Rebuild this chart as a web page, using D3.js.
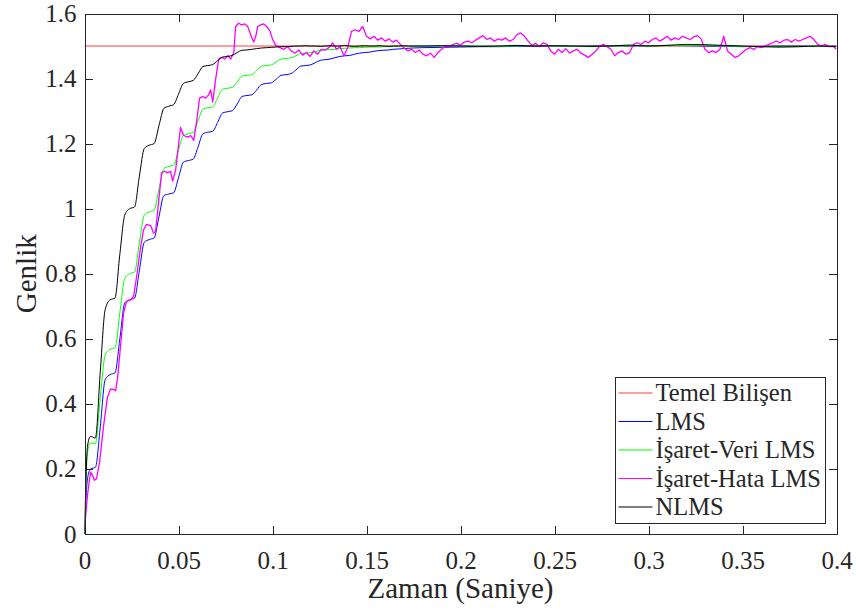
<!DOCTYPE html>
<html>
<head>
<meta charset="utf-8">
<script src="https://cdn.jsdelivr.net/npm/d3@7/dist/d3.min.js"></script>
<style>
body{margin:0;background:#fff;}
svg text{font-family:"Liberation Serif","Times New Roman",serif;fill:#262626;}
</style>
</head>
<body>
<div class="canvas"></div>
<script>
/* adaptive filter comparison: Temel Bilesen vs LMS variants */

// tick values and labels
var xTicks = [0,0.05,0.1,0.15,0.2,0.25,0.3,0.35,0.4];
var xTickLabels = ["0","0.05","0.1","0.15","0.2","0.25","0.3","0.35","0.4"];
var yTicks = [0,0.2,0.4,0.6,0.8,1,1.2,1.4,1.6];
var yTickLabels = ["0","0.2","0.4","0.6","0.8","1","1.2","1.4","1.6"];

var seriesNames = ["Temel Bilişen","LMS","İşaret-Veri LMS","İşaret-Hata LMS","NLMS"];

// reference component (constant)
var refTime = [0,0.4];
var refValues = [1.5,1.5];

// shared time grid for LMS, Sign-Data LMS, NLMS (seconds)
var time = [0,0.0016,0.0032,0.0058,0.0084,
  0.011,0.0136,0.0162,0.0188, 0.0214,0.024,0.0266,0.0292, 0.0318,0.0344,0.037,0.0396,
  0.0422,0.0448,0.0474,0.05, 0.0526,0.0552,0.0578,0.0604, 0.063,0.0656,0.0682,0.0708,
  0.0734,0.076,0.0786,0.0812, 0.0838,0.0864,0.089,0.0916, 0.0942,0.0968,0.0994,0.102,
  0.1046,0.1072,0.1098,0.1124, 0.115,0.1176,0.1202,0.1228, 0.1254,0.128,0.1306,0.1332,
  0.1358,0.1384,0.141,0.1436, 0.1462,0.1488,0.1514,0.154, 0.1566,0.1592,0.1618,0.1644,
  0.167,0.1696,0.1722,0.1748,
  0.18,0.19,0.2,0.21,0.22,0.23,0.24,0.25,0.26,0.27,0.28,0.29,0.3,0.31,0.32,0.33,0.34,0.35,0.36,0.37,0.38,0.39,0.4];

var lms = [0,0.17,0.20,0.205,0.33,
  0.475,0.49,0.495,0.60, 0.71,0.72,0.725,0.81, 0.897,0.905,0.91,0.975,
  1.04,1.045,1.049,1.095, 1.143,1.148,1.152,1.19, 1.23,1.235,1.238,1.265,
  1.294,1.298,1.301,1.322, 1.345,1.348,1.35,1.365, 1.382,1.385,1.387,1.398,
  1.41,1.412,1.415,1.426, 1.438,1.44,1.442,1.449, 1.456,1.458,1.46,1.464,
  1.468,1.47,1.471,1.475, 1.478,1.48,1.481,1.484, 1.486,1.487,1.488,1.49,
  1.491,1.492,1.493,1.494,
  1.495,1.496,1.497,1.498,1.498,1.499,1.5,1.5,1.499,1.5,1.501,1.5,1.501,1.502,1.501,1.5,1.499,1.498,1.499,1.5,1.5,1.499,1.498];

var signData = [0,0.25,0.28,0.278,0.42,
  0.55,0.568,0.572,0.68, 0.785,0.80,0.805,0.895, 0.98,0.99,0.995,1.06,
  1.123,1.13,1.134,1.18, 1.225,1.23,1.234,1.27, 1.306,1.31,1.313,1.34,
  1.367,1.37,1.373,1.39, 1.408,1.41,1.412,1.425, 1.438,1.44,1.442,1.451,
  1.46,1.462,1.464,1.47, 1.477,1.478,1.48,1.483, 1.487,1.488,1.489,1.49,
  1.492,1.493,1.494,1.495, 1.495,1.496,1.497,1.497, 1.497,1.498,1.498,1.499,
  1.499,1.5,1.5,1.5,
  1.5,1.5,1.501,1.5,1.499,1.5,1.502,1.5,1.499,1.498,1.5,1.501,1.5,1.501,1.502,1.502,1.5,1.499,1.498,1.497,1.498,1.499,1.5];

var nlms = [0,0.27,0.30,0.295,0.50,
  0.69,0.72,0.725,0.86, 0.98,1.0,1.005,1.10, 1.185,1.195,1.2,1.255,
  1.308,1.315,1.32,1.352, 1.385,1.39,1.394,1.415, 1.437,1.44,1.443,1.455,
  1.466,1.468,1.471,1.48, 1.487,1.488,1.49,1.492, 1.494,1.495,1.496,1.497,
  1.498,1.498,1.499,1.5, 1.5,1.501,1.5,1.5, 1.499,1.5,1.501,1.5,
  1.5,1.502,1.5,1.499, 1.5,1.501,1.5,1.5, 1.501,1.5,1.499,1.5,
  1.5,1.501,1.5,1.5,
  1.5,1.501,1.5,1.499,1.5,1.502,1.5,1.501,1.5,1.499,1.5,1.503,1.5,1.502,1.505,1.504,1.502,1.5,1.498,1.497,1.498,1.5,1.499];

// sign-error LMS is noisy, has its own time grid
var signErrTime = [0,0.0016,0.0032,0.0043,0.0053,0.0064,0.008,0.0101,0.0122,0.0138,
  0.0154,0.0165,0.0176,0.0192,0.0208,0.0224,0.0245,0.0261,0.0277,0.0298,
  0.0314,0.033,0.0352,0.0367,0.0378,0.0394,0.041,0.0426,0.0442,0.0458,
  0.0469,0.0485,0.0501,0.0511,0.0527,0.0549,0.0565,0.0581,0.0597,0.0612,
  0.0628,0.0644,0.066,0.0671,0.0682,0.0698,0.0714,0.073,0.0746,0.0762,
  0.0778,0.0794,0.0804,0.082,0.0836,0.0852,0.0868,0.0884,0.09,0.0911,
  0.0921,0.0937,0.0953,0.0969,0.0985,0.1001,0.1017,
  0.104,0.106,0.108,0.11,0.112,0.114,0.116,0.118,0.12,0.122,0.124,0.126,0.128,0.13,
  0.132,0.134,0.136,0.138,0.14,0.142,0.144,0.146,0.148,0.15,0.152,0.154,0.156,0.158,
  0.16,0.162,0.164,0.166,0.168,0.17,0.172,0.174,0.176,0.178,0.18,0.182,0.184,0.186,
  0.188,0.19,0.192,0.194,0.196,0.198,0.2,0.202,0.204,0.206,0.208,0.21,0.212,0.214,
  0.216,0.218,0.22,0.222,0.224,0.226,0.228,0.23,0.232,0.234,0.236,0.238,0.24,0.242,
  0.244,0.246,0.248,0.25,0.252,0.254,0.256,0.258,0.26,0.262,0.264,0.266,0.268,0.27,
  0.272,0.274,0.276,0.278,0.28,0.282,0.284,0.286,0.288,0.29,0.292,0.294,0.296,0.298,
  0.3,0.302,0.304,0.306,0.308,0.31,0.312,0.314,0.316,0.318,0.32,0.322,0.324,0.326,
  0.328,0.33,0.332,0.334,0.336,0.338,0.34,0.342,0.344,0.346,0.348,0.35,0.352,0.354,
  0.356,0.358,0.36,0.362,0.364,0.366,0.368,0.37,0.372,0.374,0.376,0.378,0.38,0.382,
  0.384,0.386,0.388,0.39,0.392,0.394,0.396,0.398,0.4];

var signErr = [0.015,0.12,0.19,0.18,0.165,0.17,0.22,0.33,0.42,0.445,
  0.445,0.44,0.48,0.58,0.68,0.715,0.72,0.73,0.79,0.88,
  0.935,0.952,0.948,0.925,0.93,1.02,1.11,1.115,1.11,1.115,
  1.085,1.12,1.2,1.25,1.225,1.22,1.225,1.21,1.27,1.34,
  1.345,1.34,1.35,1.365,1.328,1.40,1.46,1.465,1.46,1.47,
  1.46,1.48,1.56,1.57,1.565,1.568,1.56,1.535,1.512,1.53,
  1.56,1.565,1.568,1.56,1.548,1.52,1.502,
  1.495,1.49,1.498,1.485,1.478,1.488,1.472,1.48,1.468,1.485,1.475,1.49,1.488,1.495,
  1.51,1.49,1.498,1.47,1.495,1.545,1.55,1.545,1.56,1.53,1.522,1.53,1.518,1.525,
  1.515,1.522,1.512,1.518,1.505,1.495,1.485,1.49,1.48,1.488,1.475,1.47,1.478,1.465,
  1.48,1.49,1.5,1.498,1.505,1.508,1.503,1.512,1.515,1.51,1.518,1.525,1.532,1.52,
  1.525,1.515,1.522,1.518,1.525,1.515,1.52,1.535,1.54,1.53,1.515,1.502,1.508,1.498,
  1.51,1.505,1.485,1.475,1.49,1.48,1.492,1.478,1.485,1.49,1.478,1.472,1.465,1.475,
  1.485,1.5,1.505,1.498,1.49,1.47,1.48,1.485,1.475,1.48,1.505,1.51,1.505,1.515,
  1.51,1.52,1.525,1.515,1.522,1.53,1.518,1.525,1.52,1.53,1.525,1.52,1.528,1.532,
  1.522,1.49,1.48,1.485,1.48,1.49,1.53,1.485,1.475,1.465,1.47,1.48,1.49,1.495,
  1.49,1.498,1.495,1.5,1.505,1.51,1.515,1.51,1.518,1.52,1.512,1.52,1.515,1.52,
  1.525,1.53,1.52,1.505,1.5,1.505,1.498,1.5,1.49];

var colors = ["#ff3b3b","#0000ff","#00ff00","#ff00ff","#000000"];

/* canvas */
var W = 856, H = 611;
var box = {l:84.5, r:836.5, t:13.5, b:534};
var serif = '"Liberation Serif","Times New Roman",serif';

var svg = d3.select('.canvas')
    .append('svg')
    .attr('width',W)
    .attr('height',H)
    .attr('font-family',serif);

var x = d3.scaleLinear().domain([0,0.4]).range([box.l,box.r]);
var y = d3.scaleLinear().domain([0,1.6]).range([box.b,box.t]);

function zip(t,v){
    return t.map(function(d,i){ return {t:d, v:v[i]}; });
}

var series = [
    zip(refTime,refValues),
    zip(time,lms),
    zip(time,signData),
    zip(signErrTime,signErr),
    zip(time,nlms)
];

svg.append('defs').append('clipPath').attr('id','plotclip')
    .append('rect')
    .attr('x',box.l).attr('y',box.t)
    .attr('width',box.r-box.l).attr('height',box.b-box.t);

var smooth = d3.line()
    .x(function(d){return x(d.t)})
    .y(function(d){return y(d.v)})
    .curve(d3.curveMonotoneX);
var jagged = d3.line()
    .x(function(d){return x(d.t)})
    .y(function(d){return y(d.v)});

svg.append('g')
    .attr('clip-path','url(#plotclip)')
    .selectAll('path')
    .data(series)
    .enter()
    .append('path')
    .attr('d',function(d,i){return i==3 ? jagged(d) : smooth(d)})
    .style('fill','none')
    .style('stroke',function(d,i){return colors[i]})
    .style('stroke-width',function(d,i){return i==3 ? 1.3 : 1})
    .style('stroke-linejoin','round');

/* axes, ticks pointing inward on all four sides */
var axisColor = '#262626';

var xAxis = d3.axisBottom(x).tickValues(xTicks)
    .tickFormat(function(d,i){return xTickLabels[i]})
    .tickSizeInner(-8).tickSizeOuter(0).tickPadding(17);
var yAxis = d3.axisLeft(y).tickValues(yTicks)
    .tickFormat(function(d,i){return yTickLabels[i]})
    .tickSizeInner(-8).tickSizeOuter(0).tickPadding(8);

var gx = svg.append('g').attr('transform','translate(0,'+box.b+')').call(xAxis);
var gy = svg.append('g').attr('transform','translate('+box.l+',0)').call(yAxis);
var gxt = svg.append('g').attr('transform','translate(0,'+box.t+')')
    .call(d3.axisTop(x).tickValues(xTicks).tickFormat('').tickSizeInner(-8).tickSizeOuter(0));
var gyr = svg.append('g').attr('transform','translate('+box.r+',0)')
    .call(d3.axisRight(y).tickValues(yTicks).tickFormat('').tickSizeInner(-8).tickSizeOuter(0));

[gx,gy,gxt,gyr].forEach(function(g){
    g.attr('font-family',serif).attr('font-size',25);
    g.selectAll('path,line').style('stroke',axisColor).style('shape-rendering','crispEdges');
    g.selectAll('text').style('fill',axisColor);
});

/* axis titles */
svg.append('text')
    .attr('x',(box.l+box.r)/2)
    .attr('y',598)
    .attr('text-anchor','middle')
    .style('font-size','29px')
    .text('Zaman (Saniye)');

svg.append('text')
    .attr('transform','translate(36,'+((box.t+box.b)/2)+') rotate(-90)')
    .attr('text-anchor','middle')
    .style('font-size','29px')
    .text('Genlik');

/* legend */
var leg = {x:615.5, y:377.5, w:210, h:146, row:28.5};
var legend = svg.append('g');
legend.append('rect')
    .attr('x',leg.x).attr('y',leg.y)
    .attr('width',leg.w).attr('height',leg.h)
    .style('fill','#fff')
    .style('stroke',axisColor)
    .style('shape-rendering','crispEdges');

var entry = legend.selectAll('g.entry')
    .data(seriesNames)
    .enter()
    .append('g')
    .attr('class','entry')
    .attr('transform',function(d,i){return 'translate('+leg.x+','+(leg.y+15.5+i*leg.row)+')'});

entry.append('line')
    .attr('x1',3).attr('x2',37)
    .style('stroke',function(d,i){return colors[i]})
    .style('stroke-width',1);

entry.append('text')
    .attr('x',40)
    .attr('dy','0.34em')
    .style('font-size','24.5px')
    .text(function(d){return d});
</script>
</body>
</html>
